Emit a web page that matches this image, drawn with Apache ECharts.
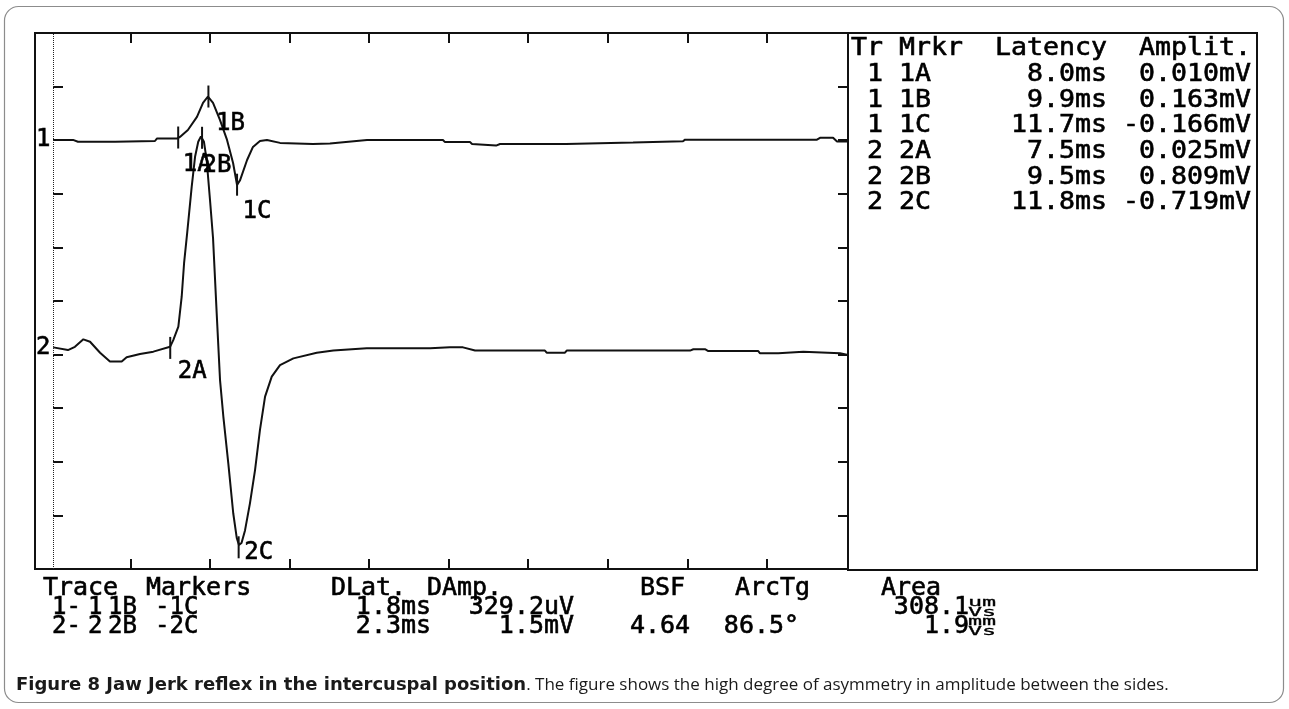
<!DOCTYPE html>
<html>
<head>
<meta charset="utf-8">
<script src="https://cdn.jsdelivr.net/npm/echarts/dist/echarts.min.js"></script>
<style>
html,body{margin:0;padding:0;background:#fff;}
#chart{width:1289px;height:709px;}
</style>
</head>
<body>
<div id="chart"></div>
<script>
// ---------------- data ----------------
// trace 1: [latency ms, amplitude mV relative to its baseline]
const trace1 = [
  [0.15,0.001],[1.39,0.001],[1.51,-0.004],[1.70,-0.006],[4.03,-0.006],[4.15,-0.003],
  [6.54,-0.003],[6.66,0.006],[7.93,0.006],[8.11,0.012],[8.61,0.038],[9.18,0.087],
  [9.56,0.139],[9.87,0.163],[10.19,0.139],[10.63,0.075],[11.07,0.001],[11.45,-0.085],
  [11.70,-0.167],[11.89,-0.149],[12.33,-0.074],[12.70,-0.025],[13.14,-0.003],[13.58,0.001],
  [14.40,-0.010],[16.47,-0.014],[17.54,-0.012],[19.87,0.001],[24.64,0.001],[24.77,-0.007],
  [26.34,-0.007],[26.47,-0.014],[27.98,-0.020],[28.23,-0.014],[32.38,-0.014],[32.50,-0.009],
  [36.59,-0.009],[36.71,-0.004],[39.73,-0.004],[39.86,0.002],[48.15,0.002],[48.34,0.009],
  [49.16,0.009],[49.41,-0.005],[50.10,-0.005]
];
// trace 2
const trace2 = [
  [0.15,0.027],[1.07,0.017],[1.51,0.029],[2.04,0.057],[2.46,0.048],[3.09,0.007],
  [3.71,-0.026],[4.45,-0.026],[4.76,-0.010],[5.60,0.002],[6.44,0.011],[7.49,0.029],
  [7.69,0.054],[8.01,0.104],[8.22,0.216],[8.37,0.341],[8.57,0.457],[8.85,0.627],
  [9.06,0.738],[9.26,0.794],[9.43,0.814],[9.62,0.794],[9.79,0.726],[10.00,0.577],
  [10.19,0.435],[10.42,0.154],[10.63,-0.095],[10.84,-0.232],[11.15,-0.406],[11.46,-0.592],
  [11.68,-0.684],[11.82,-0.710],[11.98,-0.703],[12.20,-0.656],[12.51,-0.555],[12.83,-0.431],
  [13.14,-0.281],[13.46,-0.157],[13.88,-0.082],[14.40,-0.039],[15.24,-0.014],[16.71,0.007],
  [17.75,0.015],[19.85,0.024],[23.83,0.024],[25.08,0.027],[25.90,0.027],[26.66,0.015],
  [31.05,0.015],[31.16,0.007],[32.31,0.007],[32.42,0.015],[40.17,0.015],[40.38,0.020],
  [41.11,0.020],[41.32,0.013],[44.46,0.013],[44.57,0.005],[45.72,0.005],[45.83,0.011],
  [47.29,0.011],[47.39,0.005],[49.60,0.005],[50.10,-0.001]
];
const traceNames = ['1','2'];

// markers table
const markerNames = ['1A','1B','1C','2A','2B','2C'];
const markerTrace = [1,1,1,2,2,2];
const markerLatency = [8.0, 9.9, 11.7, 7.5, 9.5, 11.8];
const markerAmplitude = [0.010, 0.163, -0.166, 0.025, 0.809, -0.719];
const tableHeader = ['Tr','Mrkr','Latency','Amplit.'];

// tick values (ms)
const xTickValues = [5,10,15,20,25,30,35,40,45];
const cursorLatency = [0.15];

// summary table below the plot
const summaryHeaders = ['Trace','Markers','DLat.','DAmp.','BSF','ArcTg','Area'];
const summaryTraceA = ['1-','2-'];
const summaryTraceB = ['1','2'];
const summaryMarkerA = ['1B','2B'];
const summaryMarkerB = ['-1C','-2C'];
const summaryDLat = ['1.8ms','2.3ms'];
const summaryDAmp = ['329.2uV','1.5mV'];
const summaryBSF = ['','4.64'];
const summaryArcTg = ['','86.5°'];
const summaryArea = ['308.1','1.9'];
const summaryAreaUnitTop = ['um','mm'];
const summaryAreaUnitBottom = ['Vs','Vs'];

const captionBold = 'Figure 8 Jaw Jerk reflex in the intercuspal position';
const captionRest = '. The figure shows the high degree of asymmetry in amplitude between the sides.';

// ---------------- layout / style ----------------
const INK = '#000000';
const MONO = '"DejaVu Sans Mono", "Liberation Mono", monospace';
const GRID = {left: 35, top: 33, width: 813, height: 536};
const CURSOR_PX = 18;   // inner left tick column sits this far inside the frame
const traceOffset = {1: -0.4, 2: -1.2};      // vertical placement of each trace on the screen (mV)
const markerLabelOffset = {'1A':[19,27],'1B':[22,27],'1C':[20,27],'2A':[22,24],'2B':[15,28],'2C':[20,5]};

const chart = echarts.init(document.getElementById('chart'), null, {renderer:'canvas'});

const traceData = [trace1, trace2];
const lineSeries = traceData.map((tr, i) => ({
  type: 'line',
  name: 'Trace ' + traceNames[i],
  data: tr.map(p => [p[0], p[1] + traceOffset[i + 1]]),
  showSymbol: false,
  symbol: 'none',
  lineStyle: {color: '#111', width: 2},
  z: 3,
  markLine: i === 0 ? {
    silent: true, symbol: 'none', label: {show: false},
    lineStyle: {type: 'dotted', color: '#222', width: 1},
    data: cursorLatency.map(v => ({xAxis: v}))
  } : undefined
}));

const markerSeries = {
  type: 'scatter',
  symbol: 'rect',
  symbolSize: [2, 22],
  itemStyle: {color: '#111', opacity: 1},
  z: 4,
  data: markerNames.map((n, i) => ({
    name: n,
    value: [markerLatency[i], markerAmplitude[i] + traceOffset[markerTrace[i]]],
    label: {offset: markerLabelOffset[n]}
  })),
  label: {
    show: true, position: 'inside', formatter: '{b}', opacity: 1,
    color: INK, fontFamily: MONO, fontSize: 24, align: 'center', verticalAlign: 'middle',
    textBorderColor: INK, textBorderWidth: 0.6
  }
};

const traceLabelValues = traceData.map((tr, i) => tr[0][1] + traceOffset[i + 1]);

function monoText(txt, x, y, opts) {
  opts = opts || {};
  return {
    type: 'text', x: x, y: y, z: 20,
    scaleX: opts.scaleX || 1, scaleY: opts.scaleY || 1,
    style: {
      text: txt, fill: INK, stroke: INK, lineWidth: opts.weight === undefined ? 0.6 : opts.weight,
      fontFamily: MONO, fontSize: opts.fontSize || 24,
      align: opts.align || 'left', verticalAlign: 'middle',
      textAlign: opts.align || 'left', textVerticalAlign: 'middle'
    }
  };
}

const graphics = [];
// outer rounded frame
graphics.push({type:'rect', z: 1, shape:{x:4.5, y:6.5, width:1279, height:696, r:14},
  style:{fill:'none', stroke:'#8c8c8c', lineWidth:1.2}});
// marker table box
graphics.push({type:'rect', z: 5, shape:{x:848, y:33, width:409, height:537},
  style:{fill:'none', stroke:'#111', lineWidth:2}});

// marker table text
const tableLines = [
  tableHeader[0] + ' ' + tableHeader[1] + tableHeader[2].padStart(9) + tableHeader[3].padStart(9)
].concat(markerNames.map((n, i) =>
  ' ' + markerTrace[i] + ' ' + n +
  (markerLatency[i].toFixed(1) + 'ms').padStart(11) +
  (markerAmplitude[i].toFixed(3) + 'mV').padStart(9)));
tableLines.forEach((ln, i) => {
  graphics.push(monoText(ln, 851, 49 + i * 25.7, {scaleX: 1.107}));
});

// summary block
const sumHeaderX = [43, 146, 331, 427, 640, 735, 881];
const rowY = [589, 608, 627];
summaryHeaders.forEach((h, i) => graphics.push(monoText(h, sumHeaderX[i], rowY[0], {scaleX: 1.04})));
for (let r = 0; r < 2; r++) {
  const y = rowY[r + 1];
  graphics.push(monoText(summaryTraceA[r], 52, y));
  graphics.push(monoText(summaryTraceB[r], 88, y));
  graphics.push(monoText(summaryMarkerA[r], 108, y));
  graphics.push(monoText(summaryMarkerB[r], 155, y));
  graphics.push(monoText(summaryDLat[r], 431, y, {align:'right', scaleX: 1.04}));
  graphics.push(monoText(summaryDAmp[r], 574, y, {align:'right', scaleX: 1.04}));
  if (summaryBSF[r]) graphics.push(monoText(summaryBSF[r], 690, y, {align:'right', scaleX: 1.04}));
  if (summaryArcTg[r]) graphics.push(monoText(summaryArcTg[r], 799, y, {align:'right', scaleX: 1.04}));
  graphics.push(monoText(summaryArea[r], 969, y, {align:'right', scaleX: 1.04}));
  graphics.push(monoText(summaryAreaUnitTop[r], 968, y - 5, {fontSize: 13, scaleX: 1.8, weight: 0.3}));
  graphics.push(monoText(summaryAreaUnitBottom[r], 968, y + 5, {fontSize: 13, scaleX: 1.8, weight: 0.3}));
}

// caption
graphics.push({
  type: 'text', x: 16, y: 685, z: 20,
  style: {
    text: '{b|' + captionBold + '}{n|' + captionRest + '}',
    verticalAlign: 'middle', textVerticalAlign: 'middle',
    rich: {
      b: {fontFamily: '"DejaVu Sans", sans-serif', fontWeight: 'bold', fontSize: 18, fill: '#1a1a1a'},
      n: {fontFamily: '"Open Sans", "Noto Sans", sans-serif', fontWeight: 'normal', fontSize: 17, fill: '#1a1a1a'}
    }
  }
});

const X_MIN = -1.0, X_MAX = 50.1;
function tickCfg(extra) {
  return Object.assign({show: true, inside: true, length: 10, lineStyle: {color: '#111', width: 2}}, extra || {});
}
function hiddenParts() {
  return {axisLine: {show: false, onZero: false}, axisLabel: {show: false}, splitLine: {show: false}};
}

const option = {
  animation: false,
  backgroundColor: '#ffffff',
  grid: Object.assign({show: true, borderColor: '#111', borderWidth: 2,
         backgroundColor: 'transparent', containLabel: false}, GRID),
  xAxis: [
    Object.assign({type: 'value', min: X_MIN, max: X_MAX, position: 'top',
      axisTick: tickCfg({customValues: xTickValues})}, hiddenParts()),
    Object.assign({type: 'value', min: X_MIN, max: X_MAX, position: 'bottom',
      axisTick: tickCfg({customValues: xTickValues})}, hiddenParts())
  ],
  yAxis: [
    Object.assign({type: 'value', min: -2, max: 0, interval: 0.2, position: 'left',
      offset: -CURSOR_PX, axisTick: tickCfg()}, hiddenParts()),
    Object.assign({type: 'value', min: -2, max: 0, interval: 0.2, position: 'right',
      axisTick: tickCfg()}, hiddenParts()),
    {type: 'value', min: -2, max: 0, position: 'left',
     axisLine: {show: false, onZero: false}, axisTick: {show: false}, splitLine: {show: false},
     axisLabel: {show: true, inside: true, margin: 1, customValues: traceLabelValues,
       formatter: v => { const k = traceLabelValues.findIndex(t => Math.abs(t - v) < 1e-6); return k >= 0 ? traceNames[k] : ''; },
       color: INK, fontFamily: MONO, fontSize: 24, textBorderColor: INK, textBorderWidth: 0.6}}
  ],
  series: lineSeries.concat([markerSeries]),
  graphic: graphics
};
chart.setOption(option);
</script>
</body>
</html>
